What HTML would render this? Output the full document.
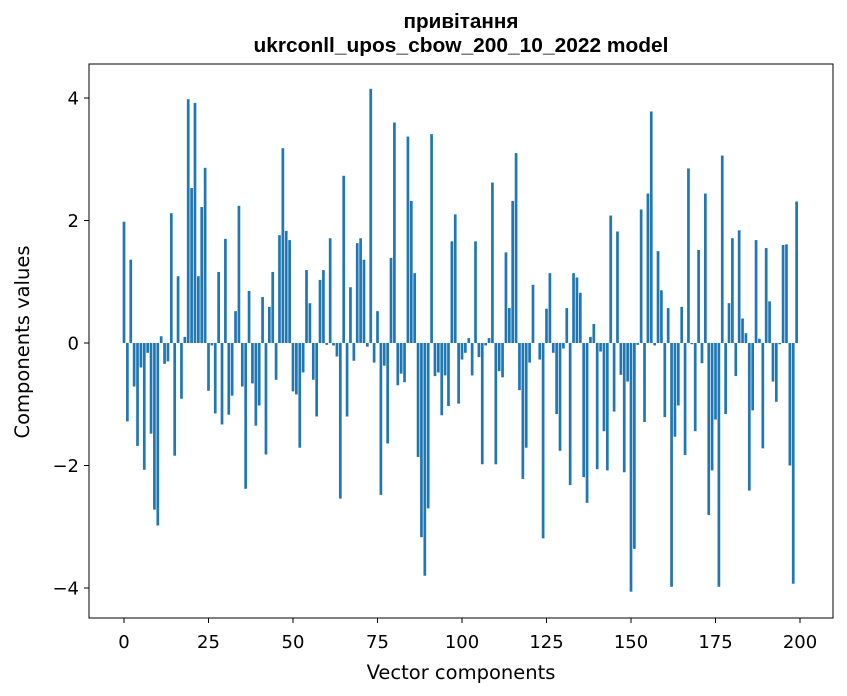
<!DOCTYPE html>
<html><head><meta charset="utf-8"><style>
body{margin:0;background:#fff}
svg{display:block;font-family:"DejaVu Sans","Liberation Sans",sans-serif}
</style></head><body>
<svg id="chart" width="847" height="696">
<text x="461" y="28" text-anchor="middle" font-size="20" font-weight="bold" font-family="Liberation Sans, sans-serif" textLength="115" lengthAdjust="spacingAndGlyphs">привітання</text>
<text x="461" y="52" text-anchor="middle" font-size="20" font-weight="bold" font-family="Liberation Sans, sans-serif" textLength="415" lengthAdjust="spacingAndGlyphs">ukrconll_upos_cbow_200_10_2022 model</text>
<g id="bars"></g>
<rect x="89" y="64" width="744" height="554" fill="none" stroke="#000" stroke-width="1"/>
<g id="xticks"></g>
<g id="yticks"></g>
<text x="461" y="679" text-anchor="middle" font-size="19.5">Vector components</text>
<text x="0" y="0" transform="translate(29,342) rotate(-90)" text-anchor="middle" font-size="19.5">Components values</text>
</svg>
<script>
const values = [1.98,-1.28,1.36,-0.71,-1.68,-0.40,-2.07,-0.16,-1.48,-2.72,
-2.98,0.11,-0.34,-0.30,2.12,-1.84,1.09,-0.91,0.10,3.98,
2.53,3.92,1.09,2.22,2.86,-0.78,-0.04,-1.15,1.16,-1.33,
1.70,-1.17,-0.86,0.52,2.24,-0.71,-2.38,0.85,-0.66,-1.35,
-1.02,0.75,-1.82,0.59,1.16,-0.60,1.76,3.18,1.83,1.68,
-0.79,-0.84,-1.71,-0.48,1.19,0.65,-0.60,-1.20,1.03,1.19,
-0.03,1.71,-0.04,-0.22,-2.54,2.73,-1.20,0.91,-0.29,1.63,
1.71,1.36,-0.06,4.15,-0.32,0.52,-2.48,-0.37,-1.64,1.39,
3.60,-0.69,-0.50,-0.64,3.37,2.32,1.14,-1.86,-3.17,-3.80,
-2.70,3.41,-0.54,-0.48,-1.18,-0.53,-1.03,1.66,2.10,-0.99,
-0.27,-0.16,0.08,-0.53,1.66,-0.23,-1.98,-0.04,0.08,2.62,
-1.98,-0.46,-0.56,1.48,0.57,2.32,3.10,-0.77,-2.22,-1.71,
-0.32,0.95,0.00,-0.27,-3.19,0.56,1.14,-0.16,-1.16,-1.76,
-0.09,0.57,-2.32,1.14,1.07,0.82,-2.19,-2.61,0.10,0.31,
-2.06,-0.14,-1.44,-2.08,2.08,-1.12,1.82,-0.52,-2.11,-0.63,
-4.06,-3.36,-0.03,2.18,-1.29,2.44,3.78,-0.04,1.50,0.86,
-1.21,0.57,-3.98,-1.53,-1.02,0.59,-1.83,2.85,-0.02,-1.44,
1.52,-0.33,2.44,-2.81,-2.08,-1.25,-3.98,3.06,-1.16,0.65,
1.71,-0.54,1.84,0.40,0.16,-2.41,-1.10,1.68,0.07,-1.72,
1.55,0.68,-0.63,-0.96,-0.02,1.60,1.61,-2.00,-3.93,2.31];
const xTicks = [0,25,50,75,100,125,150,175,200];
const yTicks = [-4,-2,0,2,4];
const yTickLabels = ["\u22124","\u22122","0","2","4"];

const NS="http://www.w3.org/2000/svg";
function xs(v){return 124+v*3.38;}
function ys(v){return 343-v*61.25;}
const bars=document.getElementById('bars');
values.forEach((v,i)=>{
  const r=document.createElementNS(NS,'rect');
  const w=0.8*3.38;
  r.setAttribute('x',xs(i)-w/2);
  r.setAttribute('width',w);
  r.setAttribute('y',Math.min(ys(v),ys(0)));
  r.setAttribute('height',Math.abs(ys(v)-ys(0)));
  r.setAttribute('fill','#1f77b4');
  
  
  bars.appendChild(r);
});
const xg=document.getElementById('xticks');
xTicks.forEach(t=>{
  const l=document.createElementNS(NS,'line');
  l.setAttribute('x1',xs(t));l.setAttribute('x2',xs(t));
  l.setAttribute('y1',618);l.setAttribute('y2',623);
  l.setAttribute('stroke','#000');
  
  
  xg.appendChild(l);
  const tx=document.createElementNS(NS,'text');
  tx.setAttribute('x',xs(t));tx.setAttribute('y',648);
  tx.setAttribute('text-anchor','middle');tx.setAttribute('font-size','18');
  tx.textContent=t;
  
  
  xg.appendChild(tx);
});
const yg=document.getElementById('yticks');
yTicks.forEach((t,i)=>{
  const l=document.createElementNS(NS,'line');
  l.setAttribute('x1',84);l.setAttribute('x2',89);
  l.setAttribute('y1',ys(t));l.setAttribute('y2',ys(t));
  l.setAttribute('stroke','#000');
  
  
  yg.appendChild(l);
  const tx=document.createElementNS(NS,'text');
  tx.setAttribute('x',79);tx.setAttribute('y',ys(t)+6.5);
  tx.setAttribute('text-anchor','end');tx.setAttribute('font-size','18');
  tx.textContent=yTickLabels[i];
  
  
  yg.appendChild(tx);
});
</script>
</body></html>
